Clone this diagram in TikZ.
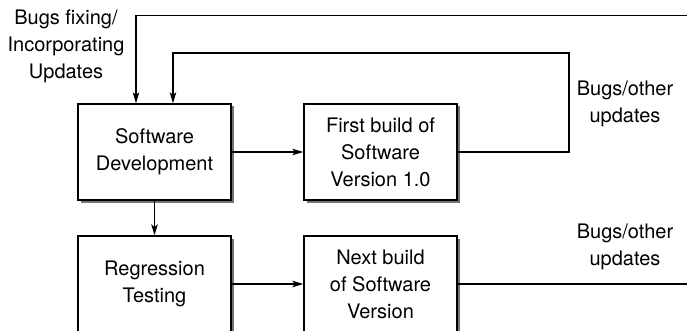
\documentclass[tikz,border=0pt]{standalone}
\usepackage{fontspec}
\setmainfont{TeX Gyre Heros}
\usetikzlibrary{arrows.meta,shadows}
\begin{document}
\begin{tikzpicture}[x=1pt,y=-1pt,
  every node/.style={font=\fontsize{20pt}{27pt}\selectfont, align=center, inner sep=0pt},
  box/.style={draw=black, line width=1.3pt, fill=white, minimum width=153pt, minimum height=96pt,
    drop shadow={shadow xshift=2.5pt, shadow yshift=-2.5pt, fill=black!55, opacity=1}},
  arr/.style={line width=1.3pt, -{Stealth[length=11pt,width=6.5pt,inset=2.5pt]}},
  ln/.style={line width=1.3pt}]
\useasboundingbox (0,0) rectangle (687,331);
\clip (0,0) rectangle (687,331);
\node[box] (SD) at (154.5,152) {Software\\Development};
\node[box] (FB) at (380.5,152) {First build of\\Software\\Version 1.0};
\node[box] (RT) at (154.5,284) {Regression\\Testing};
\node[box] (NB) at (380.5,284) {Next build\\of Software\\Version};
\node (L1) at (66,46) {Bugs fixing/\\Incorporating\\Updates};
\node (L2) at (625,104) {Bugs/other\\updates};
\node (L3) at (625,247) {Bugs/other\\updates};
\coordinate (tr) at (687,15.5);
\coordinate (c1) at (569,53);
\coordinate (br) at (687,284);
\draw[arr] (tr) -| ([xshift=-18.5pt]SD.north);
\draw[arr] (FB.east) -| (c1) -| ([xshift=18.5pt]SD.north);
\draw[arr] (SD) -- (FB);
\draw[arr] (SD) -- (RT);
\draw[arr] (RT) -- (NB);
\draw[ln] (NB.east) -- (br);
\end{tikzpicture}
\end{document}
